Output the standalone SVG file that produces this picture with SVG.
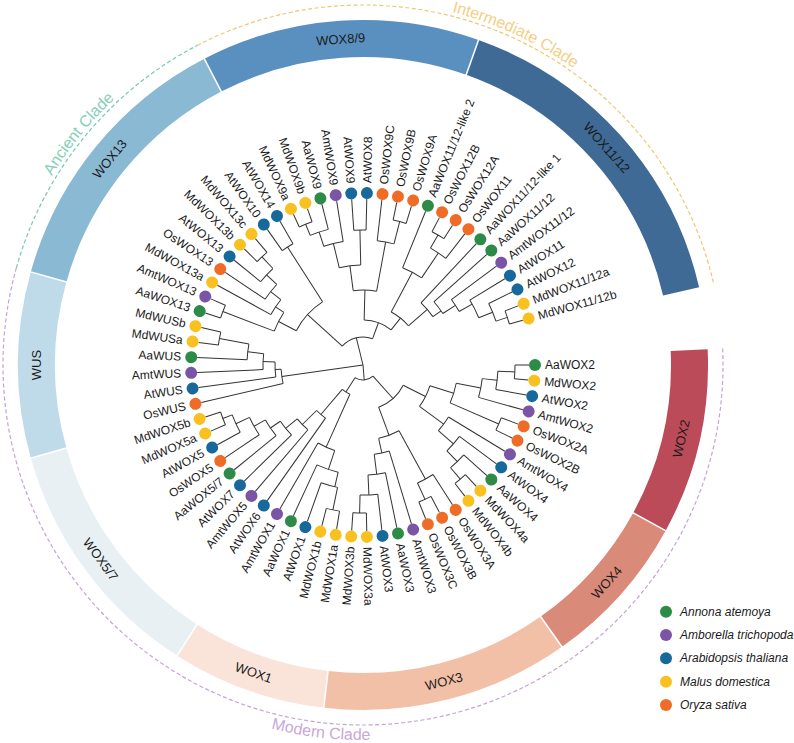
<svg xmlns="http://www.w3.org/2000/svg" width="794" height="743" viewBox="0 0 794 743">
<style>
.br line,.br circle{fill:none;stroke:#333;stroke-width:1}
.band{fill:none;stroke-width:37}
.sep{stroke:#fff;stroke-width:1.5}
.lab{font-family:"Liberation Sans",Arial,sans-serif;font-size:12px;fill:#1a1a1a;dominant-baseline:central}
.bl{font-family:"Liberation Sans",Arial,sans-serif;font-size:13px;fill:#1a1a1a;text-anchor:middle;dominant-baseline:central}
.cl{font-family:"Liberation Sans",Arial,sans-serif;font-size:16px;text-anchor:middle}
.lg{font-family:"Liberation Sans",Arial,sans-serif;font-size:12px;font-style:italic;fill:#1a1a1a;dominant-baseline:central}
.g{fill:#2e8b47}.p{fill:#7a55a5}.b{fill:#17699c}.y{fill:#f8c120}.o{fill:#ef6c26}
.e{text-anchor:end}
</style>
<rect width="794" height="743" fill="#fff"/>
<g id="clades" fill="none" stroke-width="1.2" stroke-dasharray="4 2.5">
<path d="M16.35 267.88A360 360 0 0 1 197.38 45.36" stroke="#78c8ac"/>
<path d="M197.38 45.36A360 360 0 0 1 713.72 283.77" stroke="#f2c572"/>
<path d="M722.63 348.61A360 360 0 1 1 16.35 267.88" stroke="#c6a2d8"/>
</g>
<defs>
<path id="pa" d="M12.49 266.8A364 364 0 0 1 195.54 41.81"/>
<path id="pi" d="M195.54 41.81A364 364 0 0 1 717.61 282.87"/>
<path id="pm" d="M1.9 263.84A375 375 0 1 0 737.61 347.92"/>
</defs>
<g id="clade-labels">
<text class="cl" fill="#86cfb6"><textPath href="#pa" startOffset="50%">Ancient Clade</textPath></text>
<text class="cl" fill="#f4cf86"><textPath href="#pi" startOffset="50%">Intermediate Clade</textPath></text>
<text class="cl" fill="#c9a8d8"><textPath href="#pm" startOffset="50%">Modern Clade</textPath></text>
</g>
<g id="ring" transform="translate(363,365)">
<circle class="band" r="326.5" pathLength="360" stroke="#bfdbea" stroke-dasharray="31.30 999" transform="rotate(164.35)"/>
<circle class="band" r="326.5" pathLength="360" stroke="#8ab9d4" stroke-dasharray="46.96 999" transform="rotate(195.65)"/>
<circle class="band" r="326.5" pathLength="360" stroke="#5a90c0" stroke-dasharray="46.96 999" transform="rotate(242.61)"/>
<circle class="band" r="326.5" pathLength="360" stroke="#3f6a96" stroke-dasharray="57.39 999" transform="rotate(289.57)"/>
<circle class="band" r="326.5" pathLength="360" stroke="#bb4b58" stroke-dasharray="31.31 999" transform="rotate(357.39)"/>
<circle class="band" r="326.5" pathLength="360" stroke="#d98a78" stroke-dasharray="26.08 999" transform="rotate(28.70)"/>
<circle class="band" r="326.5" pathLength="360" stroke="#f2c0a6" stroke-dasharray="41.74 999" transform="rotate(54.78)"/>
<circle class="band" r="326.5" pathLength="360" stroke="#fae4da" stroke-dasharray="26.09 999" transform="rotate(96.52)"/>
<circle class="band" r="326.5" pathLength="360" stroke="#e8f0f3" stroke-dasharray="41.74 999" transform="rotate(122.61)"/>
<line class="sep" x1="306" x2="347" transform="rotate(195.65)"/>
<line class="sep" x1="306" x2="347" transform="rotate(242.61)"/>
<line class="sep" x1="306" x2="347" transform="rotate(289.57)"/>
<line class="sep" x1="306" x2="347" transform="rotate(28.70)"/>
<line class="sep" x1="306" x2="347" transform="rotate(54.78)"/>
<line class="sep" x1="306" x2="347" transform="rotate(96.52)"/>
<line class="sep" x1="306" x2="347" transform="rotate(122.61)"/>
<line class="sep" x1="306" x2="347" transform="rotate(164.35)"/>
<text class="bl" transform="rotate(180) translate(326.5,0) rotate(90)">WUS</text>
<text class="bl" transform="rotate(219.13) translate(326.5,0) rotate(90)">WOX13</text>
<text class="bl" transform="rotate(266.09) translate(326.5,0) rotate(90)">WOX8/9</text>
<text class="bl" transform="rotate(318.26) translate(326.5,0) rotate(90)">WOX11/12</text>
<text class="bl" transform="rotate(13.04) translate(326.5,0) rotate(-90)">WOX2</text>
<text class="bl" transform="rotate(41.74) translate(326.5,0) rotate(-90)">WOX4</text>
<text class="bl" transform="rotate(75.65) translate(326.5,0) rotate(-90)">WOX3</text>
<text class="bl" transform="rotate(109.57) translate(326.5,0) rotate(-90)">WOX1</text>
<text class="bl" transform="rotate(143.48) translate(326.5,0) rotate(-90)">WOX5/7</text>
</g>
<g id="connectors" class="br" transform="translate(363,365)">
<line x1="0" x2="28" transform="rotate(256.18)"/>
<line x1="0" x2="82" transform="rotate(172.01)"/>
<line x1="0" x2="15" transform="rotate(85.23)"/>
<circle r="28" pathLength="360" stroke-dasharray="67.73 999" transform="rotate(222.31)"/>
<line x1="28" x2="75" transform="rotate(222.31)"/><line x1="28" x2="45" transform="rotate(290.04)"/>
<circle r="75" pathLength="360" stroke-dasharray="30.16 999" transform="rotate(207.23)"/>
<line x1="75" x2="95" transform="rotate(207.23)"/><line x1="75" x2="140" transform="rotate(237.39)"/>
<circle r="95" pathLength="360" stroke-dasharray="12.72 999" transform="rotate(200.87)"/>
<line x1="95" x2="150" transform="rotate(200.87)"/><line x1="95" x2="105" transform="rotate(213.59)"/>
<circle r="150" pathLength="360" stroke-dasharray="5.22 999" transform="rotate(198.26)"/>
<line x1="150" x2="166" transform="rotate(198.26)"/><line x1="150" x2="166" transform="rotate(203.48)"/>
<circle r="105" pathLength="360" stroke-dasharray="9.78 999" transform="rotate(208.70)"/>
<line x1="105" x2="166" transform="rotate(208.70)"/><line x1="105" x2="118" transform="rotate(218.48)"/>
<circle r="118" pathLength="360" stroke-dasharray="9.14 999" transform="rotate(213.91)"/>
<line x1="118" x2="166" transform="rotate(213.91)"/><line x1="118" x2="132" transform="rotate(223.05)"/>
<circle r="132" pathLength="360" stroke-dasharray="7.83 999" transform="rotate(219.13)"/>
<line x1="132" x2="166" transform="rotate(219.13)"/><line x1="132" x2="148" transform="rotate(226.96)"/>
<circle r="148" pathLength="360" stroke-dasharray="5.22 999" transform="rotate(224.35)"/>
<line x1="148" x2="166" transform="rotate(224.35)"/><line x1="148" x2="166" transform="rotate(229.57)"/>
<circle r="140" pathLength="360" stroke-dasharray="5.22 999" transform="rotate(234.78)"/>
<line x1="140" x2="166" transform="rotate(234.78)"/><line x1="140" x2="166" transform="rotate(240)"/>
<circle r="45" pathLength="360" stroke-dasharray="37.14 999" transform="rotate(271.47)"/>
<line x1="45" x2="75" transform="rotate(271.47)"/><line x1="45" x2="60" transform="rotate(308.61)"/>
<circle r="75" pathLength="360" stroke-dasharray="17.93 999" transform="rotate(262.50)"/>
<line x1="75" x2="100" transform="rotate(262.50)"/><line x1="75" x2="125" transform="rotate(280.43)"/>
<circle r="100" pathLength="360" stroke-dasharray="12.40 999" transform="rotate(256.30)"/>
<line x1="100" x2="125" transform="rotate(256.30)"/><line x1="100" x2="135" transform="rotate(268.70)"/>
<circle r="125" pathLength="360" stroke-dasharray="9.13 999" transform="rotate(251.74)"/>
<line x1="125" x2="166" transform="rotate(260.87)"/><line x1="125" x2="140" transform="rotate(251.74)"/>
<circle r="140" pathLength="360" stroke-dasharray="7.82 999" transform="rotate(247.83)"/>
<line x1="140" x2="166" transform="rotate(255.65)"/><line x1="140" x2="152" transform="rotate(247.83)"/>
<circle r="152" pathLength="360" stroke-dasharray="5.21 999" transform="rotate(245.22)"/>
<line x1="152" x2="166" transform="rotate(245.22)"/><line x1="152" x2="166" transform="rotate(250.43)"/>
<circle r="135" pathLength="360" stroke-dasharray="5.21 999" transform="rotate(266.09)"/>
<line x1="135" x2="166" transform="rotate(266.09)"/><line x1="135" x2="166" transform="rotate(271.30)"/>
<circle r="125" pathLength="360" stroke-dasharray="7.83 999" transform="rotate(276.52)"/>
<line x1="125" x2="166" transform="rotate(276.52)"/><line x1="125" x2="148" transform="rotate(284.35)"/>
<circle r="148" pathLength="360" stroke-dasharray="5.22 999" transform="rotate(281.74)"/>
<line x1="148" x2="166" transform="rotate(281.74)"/><line x1="148" x2="166" transform="rotate(286.96)"/>
<circle r="60" pathLength="360" stroke-dasharray="21.14 999" transform="rotate(298.04)"/>
<line x1="60" x2="105" transform="rotate(298.04)"/><line x1="60" x2="85" transform="rotate(319.18)"/>
<circle r="105" pathLength="360" stroke-dasharray="11.75 999" transform="rotate(292.17)"/>
<line x1="105" x2="166" transform="rotate(292.17)"/><line x1="105" x2="135" transform="rotate(303.92)"/>
<circle r="135" pathLength="360" stroke-dasharray="7.83 999" transform="rotate(300)"/>
<line x1="135" x2="166" transform="rotate(307.83)"/><line x1="135" x2="150" transform="rotate(300)"/>
<circle r="150" pathLength="360" stroke-dasharray="5.22 999" transform="rotate(297.39)"/>
<line x1="150" x2="166" transform="rotate(297.39)"/><line x1="150" x2="166" transform="rotate(302.61)"/>
<circle r="85" pathLength="360" stroke-dasharray="12.29 999" transform="rotate(313.04)"/>
<line x1="85" x2="166" transform="rotate(313.04)"/><line x1="85" x2="95" transform="rotate(325.33)"/>
<circle r="95" pathLength="360" stroke-dasharray="8.91 999" transform="rotate(318.26)"/>
<line x1="95" x2="166" transform="rotate(318.26)"/><line x1="95" x2="110" transform="rotate(327.17)"/>
<circle r="110" pathLength="360" stroke-dasharray="7.39 999" transform="rotate(323.48)"/>
<line x1="110" x2="166" transform="rotate(323.48)"/><line x1="110" x2="125" transform="rotate(330.87)"/>
<circle r="125" pathLength="360" stroke-dasharray="9.13 999" transform="rotate(328.70)"/>
<line x1="125" x2="166" transform="rotate(328.70)"/><line x1="125" x2="140" transform="rotate(337.83)"/>
<circle r="140" pathLength="360" stroke-dasharray="7.83 999" transform="rotate(333.91)"/>
<line x1="140" x2="166" transform="rotate(333.91)"/><line x1="140" x2="152" transform="rotate(341.74)"/>
<circle r="152" pathLength="360" stroke-dasharray="5.22 999" transform="rotate(339.13)"/>
<line x1="152" x2="166" transform="rotate(339.13)"/><line x1="152" x2="166" transform="rotate(344.35)"/>
<circle r="82" pathLength="360" stroke-dasharray="10.10 999" transform="rotate(166.96)"/>
<line x1="82" x2="166" transform="rotate(166.96)"/><line x1="82" x2="88" transform="rotate(177.06)"/>
<circle r="88" pathLength="360" stroke-dasharray="9.79 999" transform="rotate(172.17)"/>
<line x1="88" x2="166" transform="rotate(172.17)"/><line x1="88" x2="100" transform="rotate(181.96)"/>
<circle r="100" pathLength="360" stroke-dasharray="9.13 999" transform="rotate(177.39)"/>
<line x1="100" x2="166" transform="rotate(177.39)"/><line x1="100" x2="116" transform="rotate(186.52)"/>
<circle r="116" pathLength="360" stroke-dasharray="7.82 999" transform="rotate(182.61)"/>
<line x1="116" x2="166" transform="rotate(182.61)"/><line x1="116" x2="146" transform="rotate(190.43)"/>
<circle r="146" pathLength="360" stroke-dasharray="5.21 999" transform="rotate(187.83)"/>
<line x1="146" x2="166" transform="rotate(187.83)"/><line x1="146" x2="166" transform="rotate(193.04)"/>
<circle r="15" pathLength="360" stroke-dasharray="74.10 999" transform="rotate(48.18)"/>
<line x1="15" x2="32" transform="rotate(122.28)"/><line x1="15" x2="45" transform="rotate(48.18)"/>
<circle r="32" pathLength="360" stroke-dasharray="16.24 999" transform="rotate(114.16)"/>
<line x1="32" x2="90" transform="rotate(114.16)"/><line x1="32" x2="65" transform="rotate(130.40)"/>
<circle r="90" pathLength="360" stroke-dasharray="11.69 999" transform="rotate(108.31)"/>
<line x1="90" x2="166" transform="rotate(120)"/><line x1="90" x2="110" transform="rotate(108.31)"/>
<circle r="110" pathLength="360" stroke-dasharray="11.73 999" transform="rotate(103.05)"/>
<line x1="110" x2="166" transform="rotate(114.78)"/><line x1="110" x2="125" transform="rotate(103.05)"/>
<circle r="125" pathLength="360" stroke-dasharray="7.83 999" transform="rotate(101.74)"/>
<line x1="125" x2="166" transform="rotate(109.57)"/><line x1="125" x2="148" transform="rotate(101.74)"/>
<circle r="148" pathLength="360" stroke-dasharray="5.22 999" transform="rotate(99.13)"/>
<line x1="148" x2="166" transform="rotate(99.13)"/><line x1="148" x2="166" transform="rotate(104.35)"/>
<circle r="65" pathLength="360" stroke-dasharray="10.35 999" transform="rotate(125.22)"/>
<line x1="65" x2="166" transform="rotate(125.22)"/><line x1="65" x2="85" transform="rotate(135.57)"/>
<circle r="85" pathLength="360" stroke-dasharray="10.28 999" transform="rotate(130.43)"/>
<line x1="85" x2="166" transform="rotate(130.43)"/><line x1="85" x2="100" transform="rotate(140.71)"/>
<circle r="100" pathLength="360" stroke-dasharray="10.11 999" transform="rotate(135.65)"/>
<line x1="100" x2="166" transform="rotate(135.65)"/><line x1="100" x2="112" transform="rotate(145.76)"/>
<circle r="112" pathLength="360" stroke-dasharray="9.78 999" transform="rotate(140.87)"/>
<line x1="112" x2="166" transform="rotate(140.87)"/><line x1="112" x2="125" transform="rotate(150.65)"/>
<circle r="125" pathLength="360" stroke-dasharray="9.13 999" transform="rotate(146.09)"/>
<line x1="125" x2="166" transform="rotate(146.09)"/><line x1="125" x2="140" transform="rotate(155.22)"/>
<circle r="140" pathLength="360" stroke-dasharray="7.83 999" transform="rotate(151.30)"/>
<line x1="140" x2="166" transform="rotate(151.30)"/><line x1="140" x2="150" transform="rotate(159.13)"/>
<circle r="150" pathLength="360" stroke-dasharray="5.22 999" transform="rotate(156.52)"/>
<line x1="150" x2="166" transform="rotate(156.52)"/><line x1="150" x2="166" transform="rotate(161.74)"/>
<circle r="45" pathLength="360" stroke-dasharray="42.88 999" transform="rotate(26.74)"/>
<line x1="45" x2="75" transform="rotate(69.62)"/><line x1="45" x2="70" transform="rotate(26.74)"/>
<circle r="75" pathLength="360" stroke-dasharray="16.62 999" transform="rotate(61.31)"/>
<line x1="75" x2="130" transform="rotate(61.31)"/><line x1="75" x2="90" transform="rotate(77.93)"/>
<circle r="130" pathLength="360" stroke-dasharray="7.83 999" transform="rotate(57.39)"/>
<line x1="130" x2="166" transform="rotate(57.39)"/><line x1="130" x2="148" transform="rotate(65.22)"/>
<circle r="148" pathLength="360" stroke-dasharray="5.22 999" transform="rotate(62.61)"/>
<line x1="148" x2="166" transform="rotate(62.61)"/><line x1="148" x2="166" transform="rotate(67.83)"/>
<circle r="90" pathLength="360" stroke-dasharray="9.79 999" transform="rotate(73.04)"/>
<line x1="90" x2="166" transform="rotate(73.04)"/><line x1="90" x2="110" transform="rotate(82.83)"/>
<circle r="110" pathLength="360" stroke-dasharray="9.13 999" transform="rotate(78.26)"/>
<line x1="110" x2="166" transform="rotate(78.26)"/><line x1="110" x2="130" transform="rotate(87.39)"/>
<circle r="130" pathLength="360" stroke-dasharray="7.83 999" transform="rotate(83.48)"/>
<line x1="130" x2="166" transform="rotate(83.48)"/><line x1="130" x2="148" transform="rotate(91.31)"/>
<circle r="148" pathLength="360" stroke-dasharray="5.21 999" transform="rotate(88.70)"/>
<line x1="148" x2="166" transform="rotate(88.70)"/><line x1="148" x2="166" transform="rotate(93.91)"/>
<circle r="70" pathLength="360" stroke-dasharray="18.92 999" transform="rotate(17.28)"/>
<line x1="70" x2="95" transform="rotate(17.28)"/><line x1="70" x2="100" transform="rotate(36.20)"/>
<circle r="95" pathLength="360" stroke-dasharray="12.39 999" transform="rotate(11.09)"/>
<line x1="95" x2="120" transform="rotate(11.09)"/><line x1="95" x2="148" transform="rotate(23.48)"/>
<circle r="120" pathLength="360" stroke-dasharray="9.13 999" transform="rotate(6.52)"/>
<line x1="120" x2="166" transform="rotate(15.65)"/><line x1="120" x2="135" transform="rotate(6.52)"/>
<circle r="135" pathLength="360" stroke-dasharray="7.82 999" transform="rotate(2.61)"/>
<line x1="135" x2="166" transform="rotate(10.43)"/><line x1="135" x2="152" transform="rotate(2.61)"/>
<circle r="152" pathLength="360" stroke-dasharray="5.22 999" transform="rotate(0)"/>
<line x1="152" x2="166" transform="rotate(0)"/><line x1="152" x2="166" transform="rotate(5.22)"/>
<circle r="148" pathLength="360" stroke-dasharray="5.22 999" transform="rotate(20.87)"/>
<line x1="148" x2="166" transform="rotate(20.87)"/><line x1="148" x2="166" transform="rotate(26.09)"/>
<circle r="100" pathLength="360" stroke-dasharray="9.79 999" transform="rotate(31.30)"/>
<line x1="100" x2="166" transform="rotate(31.30)"/><line x1="100" x2="120" transform="rotate(41.09)"/>
<circle r="120" pathLength="360" stroke-dasharray="9.13 999" transform="rotate(36.52)"/>
<line x1="120" x2="166" transform="rotate(36.52)"/><line x1="120" x2="135" transform="rotate(45.65)"/>
<circle r="135" pathLength="360" stroke-dasharray="7.83 999" transform="rotate(41.74)"/>
<line x1="135" x2="166" transform="rotate(41.74)"/><line x1="135" x2="150" transform="rotate(49.57)"/>
<circle r="150" pathLength="360" stroke-dasharray="5.21 999" transform="rotate(46.96)"/>
<line x1="150" x2="166" transform="rotate(46.96)"/><line x1="150" x2="166" transform="rotate(52.17)"/>
</g>
<g id="leaves" transform="translate(363,365)">
<g id="AaWOX13" transform="rotate(198.26)"><circle cx="172" r="6" class="g"/><text class="lab e" x="-182" transform="rotate(180)">AaWOX13</text></g>
<g id="AmtWOX13" transform="rotate(203.48)"><circle cx="172" r="6" class="p"/><text class="lab e" x="-182" transform="rotate(180)">AmtWOX13</text></g>
<g id="MdWOX13a" transform="rotate(208.70)"><circle cx="172" r="6" class="y"/><text class="lab e" x="-182" transform="rotate(180)">MdWOX13a</text></g>
<g id="OsWOX13" transform="rotate(213.91)"><circle cx="172" r="6" class="o"/><text class="lab e" x="-182" transform="rotate(180)">OsWOX13</text></g>
<g id="AtWOX13" transform="rotate(219.13)"><circle cx="172" r="6" class="b"/><text class="lab e" x="-182" transform="rotate(180)">AtWOX13</text></g>
<g id="MdWOX13b" transform="rotate(224.35)"><circle cx="172" r="6" class="y"/><text class="lab e" x="-182" transform="rotate(180)">MdWOX13b</text></g>
<g id="MdWOX13c" transform="rotate(229.57)"><circle cx="172" r="6" class="y"/><text class="lab e" x="-182" transform="rotate(180)">MdWOX13c</text></g>
<g id="AtWOX10" transform="rotate(234.78)"><circle cx="172" r="6" class="b"/><text class="lab e" x="-182" transform="rotate(180)">AtWOX10</text></g>
<g id="AtWOX14" transform="rotate(240)"><circle cx="172" r="6" class="b"/><text class="lab e" x="-182" transform="rotate(180)">AtWOX14</text></g>
<g id="MdWOX9a" transform="rotate(245.22)"><circle cx="172" r="6" class="y"/><text class="lab e" x="-182" transform="rotate(180)">MdWOX9a</text></g>
<g id="MdWOX9b" transform="rotate(250.43)"><circle cx="172" r="6" class="y"/><text class="lab e" x="-182" transform="rotate(180)">MdWOX9b</text></g>
<g id="AaWOX9" transform="rotate(255.65)"><circle cx="172" r="6" class="g"/><text class="lab e" x="-182" transform="rotate(180)">AaWOX9</text></g>
<g id="AmtWOX9" transform="rotate(260.87)"><circle cx="172" r="6" class="p"/><text class="lab e" x="-182" transform="rotate(180)">AmtWOX9</text></g>
<g id="AtWOX9" transform="rotate(266.09)"><circle cx="172" r="6" class="b"/><text class="lab e" x="-182" transform="rotate(180)">AtWOX9</text></g>
<g id="AtWOX8" transform="rotate(271.30)"><circle cx="172" r="6" class="b"/><text class="lab" x="182">AtWOX8</text></g>
<g id="OsWOX9C" transform="rotate(276.52)"><circle cx="172" r="6" class="o"/><text class="lab" x="182">OsWOX9C</text></g>
<g id="OsWOX9B" transform="rotate(281.74)"><circle cx="172" r="6" class="o"/><text class="lab" x="182">OsWOX9B</text></g>
<g id="OsWOX9A" transform="rotate(286.96)"><circle cx="172" r="6" class="o"/><text class="lab" x="182">OsWOX9A</text></g>
<g id="AaWOX11-12-like2" transform="rotate(292.17)"><circle cx="172" r="6" class="g"/><text class="lab" x="182">AaWOX11/12-like 2</text></g>
<g id="OsWOX12B" transform="rotate(297.39)"><circle cx="172" r="6" class="o"/><text class="lab" x="182">OsWOX12B</text></g>
<g id="OsWOX12A" transform="rotate(302.61)"><circle cx="172" r="6" class="o"/><text class="lab" x="182">OsWOX12A</text></g>
<g id="OsWOX11" transform="rotate(307.83)"><circle cx="172" r="6" class="o"/><text class="lab" x="182">OsWOX11</text></g>
<g id="AaWOX11-12-like1" transform="rotate(313.04)"><circle cx="172" r="6" class="g"/><text class="lab" x="182">AaWOX11/12-like 1</text></g>
<g id="AaWOX11-12" transform="rotate(318.26)"><circle cx="172" r="6" class="g"/><text class="lab" x="182">AaWOX11/12</text></g>
<g id="AmtWOX11-12" transform="rotate(323.48)"><circle cx="172" r="6" class="p"/><text class="lab" x="182">AmtWOX11/12</text></g>
<g id="AtWOX11" transform="rotate(328.70)"><circle cx="172" r="6" class="b"/><text class="lab" x="182">AtWOX11</text></g>
<g id="AtWOX12" transform="rotate(333.91)"><circle cx="172" r="6" class="b"/><text class="lab" x="182">AtWOX12</text></g>
<g id="MdWOX11-12a" transform="rotate(339.13)"><circle cx="172" r="6" class="y"/><text class="lab" x="182">MdWOX11/12a</text></g>
<g id="MdWOX11-12b" transform="rotate(344.35)"><circle cx="172" r="6" class="y"/><text class="lab" x="182">MdWOX11/12b</text></g>
<g id="AaWOX2" transform="rotate(0)"><circle cx="172" r="6" class="g"/><text class="lab" x="182">AaWOX2</text></g>
<g id="MdWOX2" transform="rotate(5.22)"><circle cx="172" r="6" class="y"/><text class="lab" x="182">MdWOX2</text></g>
<g id="AtWOX2" transform="rotate(10.43)"><circle cx="172" r="6" class="b"/><text class="lab" x="182">AtWOX2</text></g>
<g id="AmtWOX2" transform="rotate(15.65)"><circle cx="172" r="6" class="p"/><text class="lab" x="182">AmtWOX2</text></g>
<g id="OsWOX2A" transform="rotate(20.87)"><circle cx="172" r="6" class="o"/><text class="lab" x="182">OsWOX2A</text></g>
<g id="OsWOX2B" transform="rotate(26.09)"><circle cx="172" r="6" class="o"/><text class="lab" x="182">OsWOX2B</text></g>
<g id="AmtWOX4" transform="rotate(31.30)"><circle cx="172" r="6" class="p"/><text class="lab" x="182">AmtWOX4</text></g>
<g id="AtWOX4" transform="rotate(36.52)"><circle cx="172" r="6" class="b"/><text class="lab" x="182">AtWOX4</text></g>
<g id="AaWOX4" transform="rotate(41.74)"><circle cx="172" r="6" class="g"/><text class="lab" x="182">AaWOX4</text></g>
<g id="MdWOX4a" transform="rotate(46.96)"><circle cx="172" r="6" class="y"/><text class="lab" x="182">MdWOX4a</text></g>
<g id="MdWOX4b" transform="rotate(52.17)"><circle cx="172" r="6" class="y"/><text class="lab" x="182">MdWOX4b</text></g>
<g id="OsWOX3A" transform="rotate(57.39)"><circle cx="172" r="6" class="o"/><text class="lab" x="182">OsWOX3A</text></g>
<g id="OsWOX3B" transform="rotate(62.61)"><circle cx="172" r="6" class="o"/><text class="lab" x="182">OsWOX3B</text></g>
<g id="OsWOX3C" transform="rotate(67.83)"><circle cx="172" r="6" class="o"/><text class="lab" x="182">OsWOX3C</text></g>
<g id="AmtWOX3" transform="rotate(73.04)"><circle cx="172" r="6" class="p"/><text class="lab" x="182">AmtWOX3</text></g>
<g id="AaWOX3" transform="rotate(78.26)"><circle cx="172" r="6" class="g"/><text class="lab" x="182">AaWOX3</text></g>
<g id="AtWOX3" transform="rotate(83.48)"><circle cx="172" r="6" class="b"/><text class="lab" x="182">AtWOX3</text></g>
<g id="MdWOX3a" transform="rotate(88.70)"><circle cx="172" r="6" class="y"/><text class="lab" x="182">MdWOX3a</text></g>
<g id="MdWOX3b" transform="rotate(93.91)"><circle cx="172" r="6" class="y"/><text class="lab e" x="-182" transform="rotate(180)">MdWOX3b</text></g>
<g id="MdWOX1a" transform="rotate(99.13)"><circle cx="172" r="6" class="y"/><text class="lab e" x="-182" transform="rotate(180)">MdWOX1a</text></g>
<g id="MdWOX1b" transform="rotate(104.35)"><circle cx="172" r="6" class="y"/><text class="lab e" x="-182" transform="rotate(180)">MdWOX1b</text></g>
<g id="AtWOX1" transform="rotate(109.57)"><circle cx="172" r="6" class="b"/><text class="lab e" x="-182" transform="rotate(180)">AtWOX1</text></g>
<g id="AaWOX1" transform="rotate(114.78)"><circle cx="172" r="6" class="g"/><text class="lab e" x="-182" transform="rotate(180)">AaWOX1</text></g>
<g id="AmtWOX1" transform="rotate(120)"><circle cx="172" r="6" class="p"/><text class="lab e" x="-182" transform="rotate(180)">AmtWOX1</text></g>
<g id="AtWOX6" transform="rotate(125.22)"><circle cx="172" r="6" class="b"/><text class="lab e" x="-182" transform="rotate(180)">AtWOX6</text></g>
<g id="AmtWOX5" transform="rotate(130.43)"><circle cx="172" r="6" class="p"/><text class="lab e" x="-182" transform="rotate(180)">AmtWOX5</text></g>
<g id="AtWOX7" transform="rotate(135.65)"><circle cx="172" r="6" class="b"/><text class="lab e" x="-182" transform="rotate(180)">AtWOX7</text></g>
<g id="AaWOX5-7" transform="rotate(140.87)"><circle cx="172" r="6" class="g"/><text class="lab e" x="-182" transform="rotate(180)">AaWOX5/7</text></g>
<g id="OsWOX5" transform="rotate(146.09)"><circle cx="172" r="6" class="o"/><text class="lab e" x="-182" transform="rotate(180)">OsWOX5</text></g>
<g id="AtWOX5" transform="rotate(151.30)"><circle cx="172" r="6" class="b"/><text class="lab e" x="-182" transform="rotate(180)">AtWOX5</text></g>
<g id="MdWOX5a" transform="rotate(156.52)"><circle cx="172" r="6" class="y"/><text class="lab e" x="-182" transform="rotate(180)">MdWOX5a</text></g>
<g id="MdWOX5b" transform="rotate(161.74)"><circle cx="172" r="6" class="y"/><text class="lab e" x="-182" transform="rotate(180)">MdWOX5b</text></g>
<g id="OsWUS" transform="rotate(166.96)"><circle cx="172" r="6" class="o"/><text class="lab e" x="-182" transform="rotate(180)">OsWUS</text></g>
<g id="AtWUS" transform="rotate(172.17)"><circle cx="172" r="6" class="b"/><text class="lab e" x="-182" transform="rotate(180)">AtWUS</text></g>
<g id="AmtWUS" transform="rotate(177.39)"><circle cx="172" r="6" class="p"/><text class="lab e" x="-182" transform="rotate(180)">AmtWUS</text></g>
<g id="AaWUS" transform="rotate(182.61)"><circle cx="172" r="6" class="g"/><text class="lab e" x="-182" transform="rotate(180)">AaWUS</text></g>
<g id="MdWUSa" transform="rotate(187.83)"><circle cx="172" r="6" class="y"/><text class="lab e" x="-182" transform="rotate(180)">MdWUSa</text></g>
<g id="MdWUSb" transform="rotate(193.04)"><circle cx="172" r="6" class="y"/><text class="lab e" x="-182" transform="rotate(180)">MdWUSb</text></g>
</g>
<g id="legend">
<circle cx="666" cy="611.7" r="6" class="g"/><text class="lg" x="680" y="611.7">Annona atemoya</text>
<circle cx="666" cy="635" r="6" class="p"/><text class="lg" x="680" y="635">Amborella trichopoda</text>
<circle cx="666" cy="658.3" r="6" class="b"/><text class="lg" x="680" y="658.3">Arabidopsis thaliana</text>
<circle cx="666" cy="681.7" r="6" class="y"/><text class="lg" x="680" y="681.7">Malus domestica</text>
<circle cx="666" cy="705" r="6" class="o"/><text class="lg" x="680" y="705">Oryza sativa</text>
</g>
</svg>
